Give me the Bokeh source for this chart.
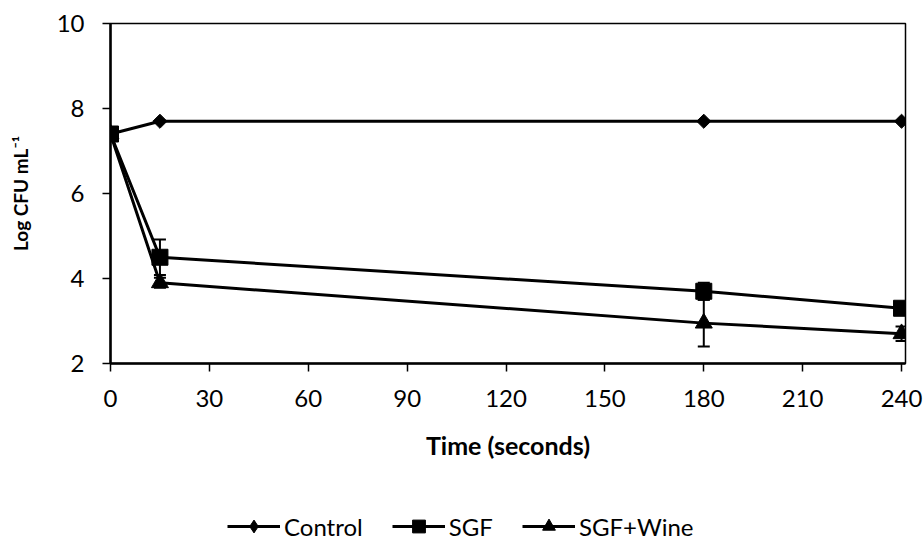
import math
from bokeh.plotting import figure
from bokeh.layouts import column
from bokeh.models import Range1d, Whisker, ColumnDataSource, Legend, LegendItem, TeeHead, FixedTicker
from bokeh.embed import file_html
from bokeh.resources import INLINE

time = [0, 15, 180, 240]
control = [7.4, 7.7, 7.7, 7.7]
sgf = [7.4, 4.5, 3.7, 3.3]
sgf_wine = [7.4, 3.9, 2.95, 2.7]
sgf_err = [0.0, 0.42, 0.2, 0.0]
wine_err = [0.0, 0.12, 0.55, 0.17]
x_ticks = [0, 30, 60, 90, 120, 150, 180, 210, 240]
y_ticks = [2, 4, 6, 8, 10]
series_names = ["Control", "SGF", "SGF+Wine"]

FONT = "Lato"

p = figure(width=923, height=480, output_backend="svg", toolbar_location=None,
           x_range=Range1d(0, 241.2), y_range=Range1d(2, 10),
           min_border_left=110, min_border_right=18, min_border_top=23, min_border_bottom=117)
p.grid.visible = False
p.outline_line_color = "black"
p.outline_line_width = 1.5

for ax in (p.xaxis[0], p.yaxis[0]):
    ax.axis_line_width = 2.5
    ax.major_tick_line_width = 1.5
    ax.major_tick_out = 8
    ax.major_tick_in = 0
    ax.minor_tick_out = 0
    ax.minor_tick_in = 0
    ax.major_label_text_font = FONT
    ax.major_label_text_font_size = "24px"
    ax.major_label_text_color = "black"
    ax.axis_label_text_font = FONT
    ax.axis_label_text_font_style = "bold"
    ax.axis_label_text_color = "black"

p.xaxis.axis_label_text_font_size = "25px"
p.yaxis.axis_label_text_font_size = "19px"
p.xaxis.ticker = FixedTicker(ticks=x_ticks)
p.yaxis.ticker = FixedTicker(ticks=y_ticks)
p.xaxis.axis_label = "Time (seconds)"
p.yaxis.axis_label = "Log CFU mL\u207b\u00b9"
p.xaxis.major_label_standoff = 18
p.xaxis.axis_label_standoff = 20
p.yaxis.major_label_standoff = 18
p.yaxis.axis_label_standoff = 22

def err_src(y, e):
    return ColumnDataSource(dict(x=time, lo=[a - b for a, b in zip(y, e)], hi=[a + b for a, b in zip(y, e)]))

for y, e in ((sgf, sgf_err), (sgf_wine, wine_err)):
    w = Whisker(source=err_src(y, e), base="x", lower="lo", upper="hi", line_width=2, line_color="black",
                upper_head=TeeHead(size=12, line_width=2, line_color="black"),
                lower_head=TeeHead(size=12, line_width=2, line_color="black"))
    p.add_layout(w)

marker_kw = [dict(marker="square", size=10, angle=math.pi / 4),
             dict(marker="square", size=16, angle=0),
             dict(marker="triangle", size=17, angle=0)]
for ys, kw in zip((control, sgf, sgf_wine), marker_kw):
    p.line(time, ys, line_width=3, color="black")
    p.scatter(time, ys, color="black", **kw)

# legend strip below the chart (its sample glyphs sit outside the strip's range)
legend_markers = ["diamond", "square", "triangle"]
lg = figure(width=923, height=60, output_backend="svg", toolbar_location=None,
            x_range=Range1d(0, 1), y_range=Range1d(0, 1), min_border=0)
lg.axis.visible = False
lg.grid.visible = False
lg.outline_line_color = None
items = []
for name, mk in zip(series_names, legend_markers):
    lr = lg.line([-5, -4], [-5, -4], line_width=3, color="black")
    mr = lg.scatter([-5], [-5], marker=mk, color="black")
    items.append(LegendItem(label=name, renderers=[lr, mr]))
legend = Legend(items=items, orientation="horizontal", location=(117, -2),
                label_text_font=FONT, label_text_font_size="24px", label_text_color="black",
                glyph_width=53, glyph_height=32, spacing=29, label_standoff=4,
                border_line_color=None, background_fill_alpha=0, margin=0, padding=0)
lg.add_layout(legend, "center")

open("out.html", "w").write(file_html(column(p, lg, spacing=0), INLINE))
